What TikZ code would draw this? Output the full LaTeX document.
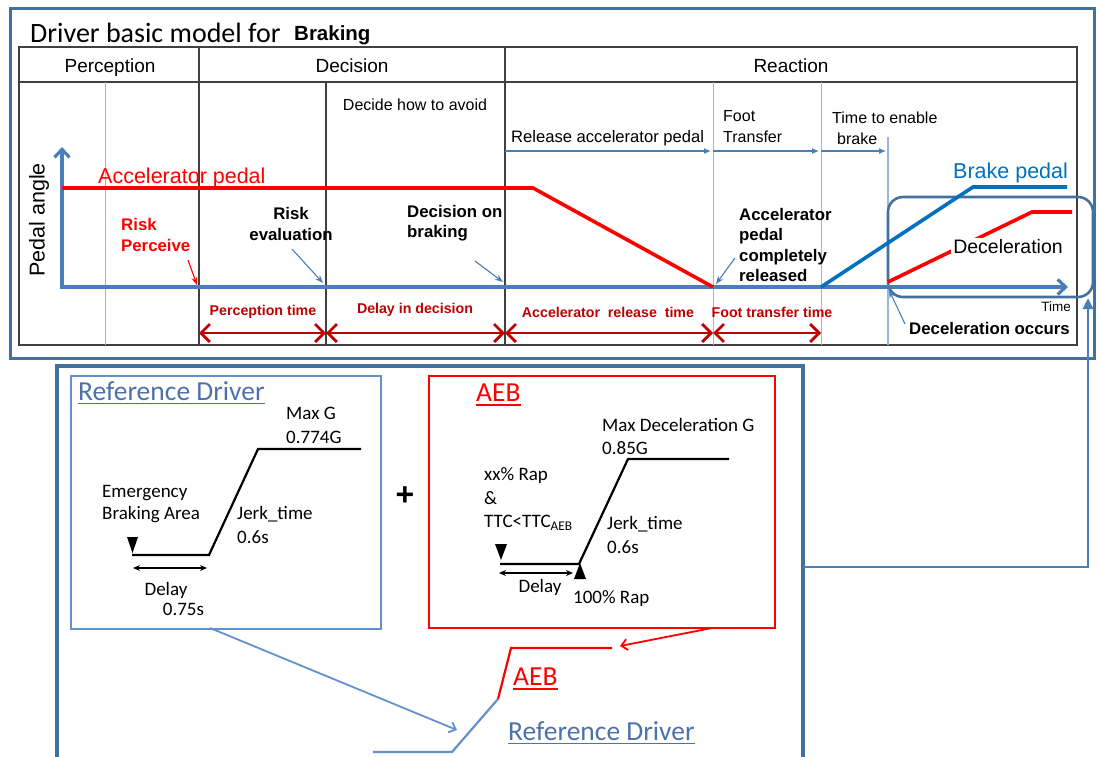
\documentclass[tikz,border=0pt]{standalone}
\usepackage{fontspec}
\setmainfont{Liberation Sans}
\newfontfamily\calibri{Carlito}
\usetikzlibrary{arrows.meta}
\definecolor{frameblue}{RGB}{65,113,156}
\definecolor{axisblue}{RGB}{74,126,187}
\definecolor{guideblue}{RGB}{149,184,226}
\definecolor{brakeblue}{RGB}{0,112,192}
\definecolor{darkred}{RGB}{192,0,0}
\definecolor{refblue}{RGB}{100,145,205}
\definecolor{reftext}{RGB}{79,113,170}
\newcommand\fsz[2]{\fontsize{#1}{#2}\selectfont}
\begin{document}
\begin{tikzpicture}[x=1pt,y=-1pt,
    every node/.style={inner sep=0pt},
    frame/.style={draw=frameblue,line width=3pt},
    grid/.style={draw=black!75,line width=1.8pt},
    guide/.style={draw=guideblue,line width=1pt},
    axis/.style={draw=axisblue,line width=3.2pt},
    accel/.style={draw=red,line width=3.6pt},
    brake/.style={draw=brakeblue,line width=3.6pt},
    span/.style={draw=darkred,line width=2.8pt,{Straight Barb[length=9pt,width=18pt]}-{Straight Barb[length=9pt,width=18pt]}},
    pointer/.style={draw=axisblue,line width=1.1pt,-{Stealth[length=8pt,width=6pt]}},
    stage/.style={draw=axisblue,line width=1.1pt,-{Latex[length=7pt,width=6pt]}},
    head/.style={font=\fsz{19}{23},anchor=base},
    note/.style={font=\fsz{16}{21},align=left,anchor=west},
    cue/.style={font=\bfseries\fsz{16.8}{20.5},align=left},
    timelbl/.style={font=\bfseries\fsz{14.2}{17},text=darkred},
    curve/.style={draw=black,line width=2.2pt},
    gap/.style={draw=black,line width=1.3pt,{Stealth[length=7pt,width=6pt]}-{Stealth[length=7pt,width=6pt]}},
    body/.style={font=\calibri\fsz{19}{24},align=left,anchor=west}]
\useasboundingbox (0,0) rectangle (1098,756);

\draw[frame] (10,8) rectangle (1094,358);
\node[anchor=base west,font=\calibri\fsz{28}{32}] (title) at (30,42) {Driver basic model for};
\node[anchor=base west,font=\bfseries\fsz{20.5}{24}] (braking) at (294,40) {Braking};

\draw[grid] (19,47) rectangle (1077,345);
\draw[grid] (19,82) -- (1077,82);
\draw[grid] (199,47) -- (199,345);
\draw[grid] (505,47) -- (505,345);
\draw[grid] (326,82) -- (326,345);
\draw[guide] (105,82) -- (105,345);
\draw[guide] (713,82) -- (713,345);
\draw[guide] (821,82) -- (821,345);
\draw[guide,line width=1.4pt] (888,137) -- (888,345);

\node[head] (perception) at (110,72) {Perception};
\node[head] (decision) at (352,72) {Decision};
\node[head] (reaction) at (791,72) {Reaction};

\coordinate (ytop) at (62,147);
\coordinate (xend) at (1068,287);
\coordinate (t1) at (199,287);
\coordinate (t2) at (326,287);
\coordinate (t3) at (505,287);
\coordinate (t4) at (713,287);
\coordinate (t5) at (821,287);
\coordinate (t6) at (888,287);

\draw[frame,line width=2.6pt,rounded corners=15pt] (888,197) rectangle (1093,297);
\draw[axis,{Straight Barb[length=8pt,width=15pt]}-{Straight Barb[length=8pt,width=15pt]}] (ytop) |- (xend);
\draw[accel] (62,188) -- (533,188) -- (t4);
\draw[brake] (t5) -- (973,187) -- (1067,187);
\draw[accel] (888,282) -- (1032,212) -- (1072,212);
\node[fill=white,inner sep=2pt,font=\fsz{19.5}{23}] (decel) at (1008,247) {Deceleration};

\node[anchor=west,font=\fsz{21.5}{25},text=red] (accpedal) at (98,178) {Accelerator pedal};
\node[anchor=west,font=\fsz{21.5}{25},text=brakeblue] (brkpedal) at (953,173) {Brake pedal};
\node[rotate=90,font=\fsz{21.5}{25}] (pedalangle) at (39,220) {Pedal angle};

\node[cue,anchor=west,text=red] (riskperc) at (121,235) {Risk\\Perceive};
\node[cue,align=center] (riskeval) at (291,224) {Risk\\evaluation};
\node[cue,anchor=west] (decbrake) at (407,223) {Decision on\\braking};
\node[cue,anchor=west] (released) at (739,245) {Accelerator\\pedal\\completely\\released};
\node[cue,anchor=west] (occurs) at (909,328) {Deceleration occurs};
\node[anchor=east,font=\fsz{13.5}{16}] (time) at (1071,307) {Time};

\coordinate (p1) at (188,260);
\coordinate (q1) at (197,285);
\coordinate (p2) at (292,249);
\coordinate (q2) at (323,283);
\coordinate (p3) at (475,261);
\coordinate (q3) at (503,282);
\coordinate (p4) at (735,258);
\coordinate (q4) at (716,284);
\coordinate (p5) at (905,324);
\coordinate (q5) at (889,290);
\draw[pointer,draw=red] (p1) -- (q1);
\draw[pointer] (p2) -- (q2);
\draw[pointer] (p3) -- (q3);
\draw[pointer] (p4) -- (q4);
\draw[pointer] (p5) -- (q5);

\node[font=\fsz{16}{20}] (avoid) at (415,105) {Decide how to avoid};
\node[note,font=\fsz{16.6}{20}] (release) at (511,138) {Release accelerator pedal};
\node[note] (foot) at (723,127) {Foot\\Transfer};
\node[note] (enable) at (832,128) {Time to enable\\\hspace*{5pt}brake};
\coordinate (u1) at (505,151);
\coordinate (u2) at (713,151);
\coordinate (u3) at (821,151);
\coordinate (u4) at (888,151);
\draw[stage] (u1) -- ([xshift=-2pt]u2);
\draw[stage] (u2) -- ([xshift=-2pt]u3);
\draw[stage] (u3) -- ([xshift=-2pt]u4);

\coordinate (s1) at (199,333);
\coordinate (s2) at (326,333);
\coordinate (s3) at (505,333);
\coordinate (s4) at (713,333);
\coordinate (s5) at (821,333);
\draw[span] (s1) -- (s2);
\draw[span] (s2) -- (s3);
\draw[span] (s3) -- (s4);
\draw[span] (s4) -- (s5);
\node[timelbl] (perctime) at (263,312) {Perception time};
\node[timelbl] (delaytime) at (415,310) {Delay in decision};
\node[timelbl] (acctime) at (608,312) {Accelerator\ \ release\ \ time};
\node[timelbl] (foottime) at (772,312) {Foot transfer time};

\draw[draw=frameblue,line width=3.2pt] (57,366) rectangle (803,780);
\coordinate (l0) at (803,567);
\coordinate (l1) at (1088,298);
\draw[draw=axisblue,line width=2.8pt,-{Triangle[length=11pt,width=10pt]}] (l0) -| (l1);

\node[draw=refblue,line width=2pt,anchor=north west,minimum width=310pt,minimum height=253pt] (refbox) at (70,375) {};
\node[draw=red,line width=2pt,anchor=north west,minimum width=346pt,minimum height=252pt] (aebbox) at (428,375) {};

\node[anchor=west,font=\calibri\fsz{27.5}{32},text=reftext] (reftitle) at (78,391) {Reference Driver};
\draw[draw=reftext,line width=1.3pt] ([yshift=-3pt]reftitle.south west) -- ([yshift=-3pt]reftitle.south east);
\draw[curve] (132,555) -- (209,555) -- (258,449) -- (361,449);
\fill (127,537) -- (138,537) -- (132.5,553) -- cycle;
\coordinate (d1) at (133,568);
\coordinate (d2) at (207,568);
\draw[gap] (d1) -- (d2);
\node[body] (maxg) at (286,425) {Max G\\0.774G};
\node[body,font=\calibri\fsz{19}{22.5}] (ebarea) at (102,504) {Emergency\\Braking Area};
\node[body] (jerk) at (237,525) {Jerk\_time\\0.6s};
\node[font=\calibri\fsz{19}{24}] (delay) at (166,590) {Delay};
\node[font=\calibri\fsz{19}{24}] (delayval) at (183.5,609) {0.75s};

\node[font=\bfseries\fsz{32}{36}] (plus) at (405,496) {+};

\node[anchor=west,font=\calibri\fsz{27.5}{32},text=red] (aebtitle) at (476,393) {AEB};
\draw[draw=red,line width=1.3pt] ([yshift=-3pt]aebtitle.south west) -- ([yshift=-3pt]aebtitle.south east);
\draw[curve] (500,564) -- (579,564) -- (628,459) -- (729,459);
\fill (495,544) -- (507,544) -- (501,560) -- cycle;
\fill (574,579) -- (586,579) -- (580,563) -- cycle;
\coordinate (e1) at (499,573);
\coordinate (e2) at (573,573);
\draw[gap] (e1) -- (e2);
\node[body,font=\calibri\fsz{19}{23.5}] (rap) at (484,499) {xx\% Rap\\\&\\TTC<TTC\textsubscript{AEB}};
\node[body,font=\calibri\fsz{19}{23}] (maxdec) at (602,436) {Max Deceleration G\\0.85G};
\node[body] (jerkaeb) at (607,535) {Jerk\_time\\0.6s};
\node[font=\calibri\fsz{19}{24}] (delayaeb) at (540,587) {Delay};
\node[body] (full) at (573,599) {100\% Rap};

\coordinate (a0) at (712,628);
\coordinate (a1) at (620,646);
\draw[draw=red,line width=1.8pt,-{Straight Barb[length=6pt,width=11pt]}] (a0) -- (a1);
\coordinate (r0) at (210,628);
\coordinate (r1) at (457,730);
\draw[draw=refblue,line width=1.8pt,-{Straight Barb[length=6pt,width=11pt]}] (r0) -- (r1);
\draw[draw=red,line width=2.2pt] (612,648) -- (511,648) -- (498,699);
\draw[draw=refblue,line width=2.2pt] (498,699) -- (452,752) -- (373,752);
\node[anchor=west,font=\calibri\fsz{27.5}{32},text=red] (aeblow) at (513,677) {AEB};
\draw[draw=red,line width=1.3pt] ([yshift=-3pt]aeblow.south west) -- ([yshift=-3pt]aeblow.south east);
\node[anchor=west,font=\calibri\fsz{27.5}{32},text=reftext] (reflow) at (508,731) {Reference Driver};
\draw[draw=reftext,line width=1.3pt] ([yshift=-3pt]reflow.south west) -- ([yshift=-3pt]reflow.south east);
\end{tikzpicture}
\end{document}
